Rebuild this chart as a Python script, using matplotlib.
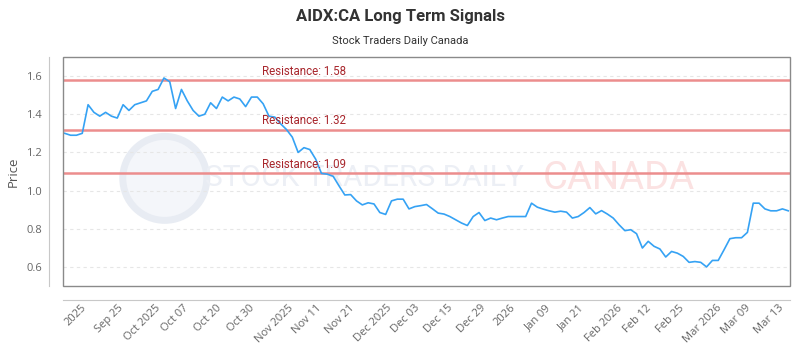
import matplotlib
matplotlib.use('Agg')
import matplotlib.pyplot as plt
from matplotlib.patches import Rectangle, Ellipse
import matplotlib.transforms as mtransforms
import numpy as np

plt.rcParams['font.family'] = ['Open Sans', 'DejaVu Sans']

# closing prices (one per trading session)
prices = [
    1.30, 1.29, 1.29, 1.30, 1.45, 1.41, 1.39, 1.41, 1.39, 1.38,
    1.45, 1.42, 1.45, 1.46, 1.47, 1.52, 1.53, 1.59, 1.57, 1.43,
    1.53, 1.47, 1.42, 1.39, 1.40, 1.46, 1.43, 1.49, 1.47, 1.49,
    1.48, 1.44, 1.49, 1.49, 1.455, 1.39, 1.385, 1.35, 1.32, 1.28,
    1.20, 1.225, 1.215, 1.165, 1.09, 1.086, 1.075, 1.025, 0.977, 0.979,
    0.946, 0.925, 0.936, 0.93, 0.885, 0.875, 0.946, 0.955, 0.955, 0.904,
    0.916, 0.921, 0.927, 0.905, 0.882, 0.877, 0.864, 0.847, 0.83, 0.817,
    0.864, 0.885, 0.843, 0.856, 0.847, 0.856, 0.864, 0.864, 0.864, 0.864,
    0.934, 0.913, 0.903, 0.894, 0.887, 0.892, 0.887, 0.856, 0.864, 0.885,
    0.911, 0.878, 0.895, 0.877, 0.856, 0.821, 0.79, 0.795, 0.774, 0.699,
    0.734, 0.708, 0.694, 0.652, 0.681, 0.672, 0.655, 0.624, 0.628, 0.624,
    0.60, 0.634, 0.634, 0.69, 0.748, 0.753, 0.753, 0.781, 0.934, 0.934,
    0.904, 0.894, 0.894, 0.904, 0.894,
]
resistance = [1.58, 1.32, 1.09]
date_labels = ['2025', 'Sep 25', 'Oct 2025', 'Oct 07', 'Oct 20', 'Oct 30',
               'Nov 2025', 'Nov 11', 'Nov 21', 'Dec 2025', 'Dec 03', 'Dec 15',
               'Dec 29', '2026', 'Jan 09', 'Jan 21', 'Feb 2026', 'Feb 12',
               'Feb 25', 'Mar 2026', 'Mar 09', 'Mar 13']

x = np.arange(len(prices))

fig = plt.figure(figsize=(8, 3.5), dpi=100)
ax = fig.add_axes([63 / 800, 1 - 286 / 350, 727 / 800, 229 / 350])

# faint watermark (logo ring + text)
ax.add_patch(Ellipse((0.14, 0.47), 84 / 727, 84 / 229, transform=ax.transAxes,
                     facecolor='#f4f6fa', edgecolor='#e8ecf3', lw=5, zorder=0))
ax.text(0.196, 0.47, 'STOCK TRADERS DAILY', transform=ax.transAxes,
        ha='left', va='center', fontsize=21.5,
        family=['Roboto', 'DejaVu Sans'],
        color='#eceff5', zorder=0)
ax.text(0.66, 0.47, 'CANADA', transform=ax.transAxes, ha='left',
        va='center', fontsize=27.5, family=['Roboto', 'DejaVu Sans'],
        color='#fbe2e2', zorder=0)

ax.plot(x, prices, color='#35a2f4', lw=1.2, zorder=3)

trans = mtransforms.blended_transform_factory(ax.transAxes, ax.transData)
for r in resistance:
    ax.axhline(r, color='#ec8d8d', lw=1.8, zorder=2)
    ax.text(0.274, r + 0.012, f'Resistance: {r:.2f}', transform=trans,
            color='#a8262c', fontsize=8.3, ha='left', va='bottom', zorder=4,
            family=['Roboto', 'DejaVu Sans'])

ax.set_xlim(-0.3, len(prices) - 0.7)
ax.set_ylim(0.5, 1.7)
ax.set_yticks([0.6, 0.8, 1.0, 1.2, 1.4, 1.6])
ax.yaxis.set_major_formatter(matplotlib.ticker.FormatStrFormatter('%.1f'))
ax.grid(axis='y', color='#e6e6e6', lw=0.8, ls=(0, (3, 3)), zorder=1)

tick_pos = np.linspace(1.95, 120.7, len(date_labels))
ax.set_xticks(tick_pos)
ax.set_xticklabels(date_labels)

ax.tick_params(axis='both', length=0, colors='#666666', labelsize=8)
ax.tick_params(axis='y', pad=5)
ax.tick_params(axis='x', pad=2, labelrotation=45)
for lbl in ax.get_xticklabels():
    lbl.set_ha('right')
    lbl.set_va('center')
    lbl.set_rotation_mode('anchor')

for s in ['top', 'right']:
    ax.spines[s].set_visible(False)
ax.spines['left'].set_position(('outward', 10))
ax.spines['bottom'].set_position(('outward', 10))
ax.spines['left'].set_color('#c8c8c8')
ax.spines['bottom'].set_color('#c8c8c8')
ax.add_patch(Rectangle((0, 0), 1, 1, transform=ax.transAxes, fill=False,
                       edgecolor='#8a8a8a', lw=1.0, zorder=5, clip_on=False))

ax.set_ylabel('Price', color='#555555', fontsize=9.5, labelpad=5)

fig.text(0.5, 1 - 16 / 350, 'AIDX:CA Long Term Signals', ha='center',
         va='center', fontsize=12, fontweight='bold', color='#333333',
         family=['Roboto', 'DejaVu Sans'])
fig.text(0.5, 1 - 41 / 350, 'Stock Traders Daily Canada', ha='center',
         va='center', fontsize=8, color='#333333',
         family=['Roboto', 'DejaVu Sans'])

fig.savefig('out.png', dpi=100, facecolor='white')
